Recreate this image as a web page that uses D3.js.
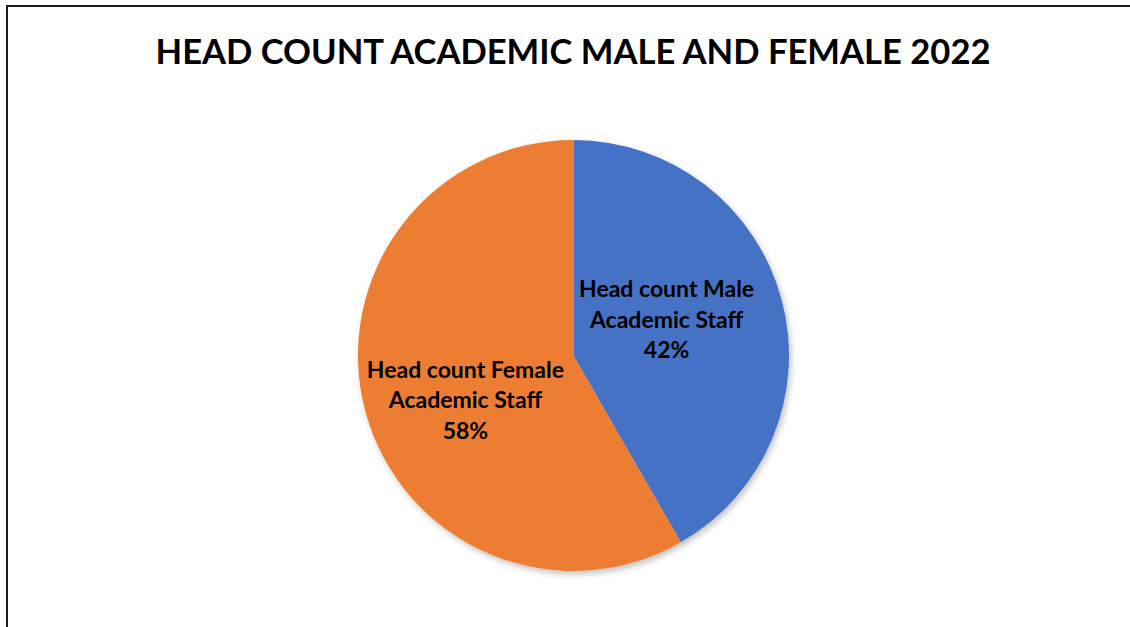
<!DOCTYPE html>
<html><head><meta charset="utf-8">
<script src="https://cdn.jsdelivr.net/npm/d3@7"></script>
<style>body{margin:0;background:#fff}svg{display:block}</style>
</head><body>
<script>
const title = "HEAD COUNT ACADEMIC MALE AND FEMALE 2022";
const categories = ["Head count Male Academic Staff", "Head count Female Academic Staff"];
const labelLines = [["Head count Male", "Academic Staff"], ["Head count Female", "Academic Staff"]];
const values = [41.7, 58.3];
const colors = ["#4472C4", "#ED7D31"];

const W = 1130, H = 627;
const svg = d3.select("body").append("svg").attr("width", W).attr("height", H);
const defs = svg.append("defs");
const f = defs.append("filter").attr("id", "sh").attr("x", "-10%").attr("y", "-10%").attr("width", "120%").attr("height", "120%");
f.append("feDropShadow").attr("dx", 2).attr("dy", 3).attr("stdDeviation", 3).attr("flood-color", "#000").attr("flood-opacity", 0.25);

svg.append("rect").attr("x", 7).attr("y", 6).attr("width", 1200).attr("height", 700)
  .attr("fill", "#fff").attr("stroke", "#1a1a1a").attr("stroke-width", 2);

svg.append("text").attr("x", 573).attr("y", 64).attr("text-anchor", "middle")
  .attr("font-family", "Lato, 'Open Sans', sans-serif").attr("font-weight", "bold")
  .attr("font-size", 35).attr("textLength", 835).attr("lengthAdjust", "spacingAndGlyphs")
  .attr("fill", "#000").text(title);

const cx = 573.5, cy = 355.5, r = 215.5;
const total = d3.sum(values);
const pie = d3.pie().sort(null).value(d => d)(values);
const arc = d3.arc().innerRadius(0).outerRadius(r);
const g = svg.append("g").attr("transform", `translate(${cx},${cy})`);
g.append("g").attr("filter", "url(#sh)").selectAll("path").data(pie).join("path")
  .attr("d", arc).attr("fill", (d, i) => colors[i]);

const labelArc = d3.arc().innerRadius(r * 0.5).outerRadius(r * 0.5);
const labelShift = [[-11, 0], [-4, 25]];
const fmt = d3.format(".0%");
pie.forEach((d, i) => {
  const c = labelArc.centroid(d);
  const x = c[0] + labelShift[i][0], y = c[1] + labelShift[i][1];
  const lines = [...labelLines[i], fmt(values[i] / total)];
  const t = g.append("text").attr("text-anchor", "middle")
    .attr("font-family", "Lato, 'Open Sans', sans-serif").attr("font-weight", "bold")
    .attr("font-size", 23).attr("fill", "#000");
  lines.forEach((s, k) => {
    t.append("tspan").attr("x", x).attr("y", y + (k - 1) * 30.3).text(s);
  });
});
</script>
</body></html>
